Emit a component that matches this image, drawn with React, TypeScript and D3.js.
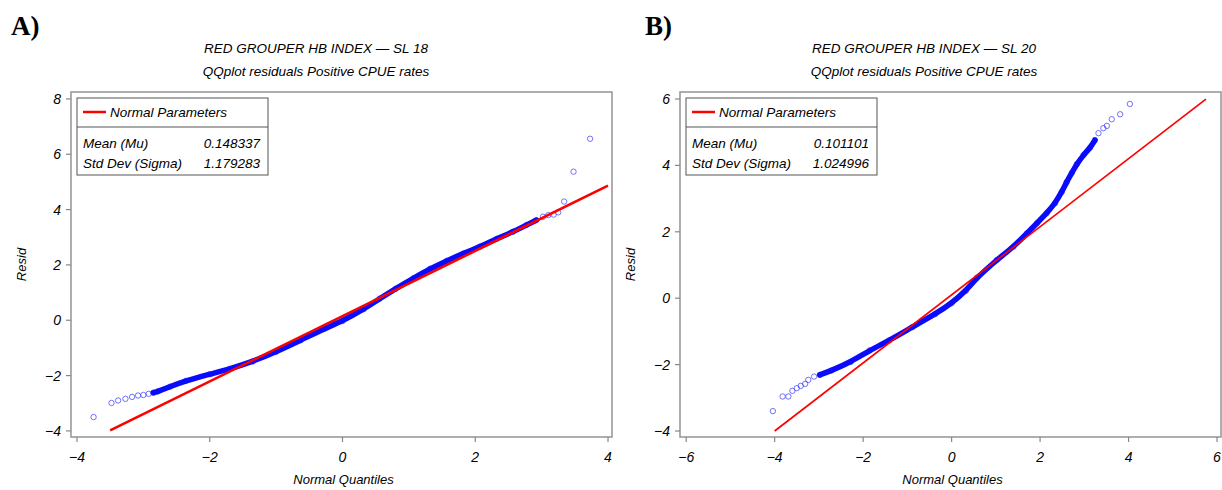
import React from "react";
import * as d3 from "d3";

// ---------- DATA ----------
// Panel A (SL 18): normal quantiles vs residuals
const qqAx = [-3.75, -3.48, -3.38, -3.27, -3.17, -3.08, -3.0, -2.92, -2.85, -2.78, -2.6, -2.36, -2.0, -1.7, -1.35, -1.0, -0.63, -0.27, 0.0, 0.32, 0.56, 0.8, 1.07, 1.32, 1.57, 1.82, 2.07, 2.32, 2.57, 2.77, 2.92, 3.02, 3.1, 3.18, 3.25, 3.34, 3.48, 3.73];
const qqAy = [-3.5, -2.99, -2.9, -2.84, -2.77, -2.72, -2.7, -2.66, -2.62, -2.57, -2.4, -2.19, -1.95, -1.76, -1.49, -1.14, -0.72, -0.3, -0.03, 0.4, 0.78, 1.14, 1.52, 1.86, 2.15, 2.41, 2.66, 2.94, 3.2, 3.44, 3.62, 3.74, 3.8, 3.82, 3.9, 4.29, 5.37, 6.56];
// Panel B (SL 20)
const qqBx = [-4.04, -3.82, -3.69, -3.6, -3.5, -3.41, -3.31, -3.24, -3.11, -2.98, -2.72, -2.28, -1.85, -1.41, -0.89, -0.37, 0.0, 0.32, 0.57, 1.02, 1.4, 1.7, 1.93, 2.15, 2.34, 2.49, 2.6, 2.72, 2.83, 2.98, 3.13, 3.24, 3.32, 3.43, 3.51, 3.62, 3.81, 4.03];
const qqBy = [-3.4, -2.96, -2.96, -2.79, -2.71, -2.64, -2.58, -2.46, -2.36, -2.31, -2.18, -1.92, -1.57, -1.27, -0.87, -0.48, -0.15, 0.22, 0.62, 1.15, 1.55, 1.95, 2.26, 2.56, 2.86, 3.2, 3.5, 3.78, 4.04, 4.31, 4.53, 4.76, 4.97, 5.12, 5.19, 5.39, 5.54, 5.85];

const xTicksA = [-4, -2, 0, 2, 4];
const yTicksA = [-4, -2, 0, 2, 4, 6, 8];
const xTicksB = [-6, -4, -2, 0, 2, 4, 6];
const yTicksB = [-4, -2, 0, 2, 4, 6];

const muA = 0.148337;
const sigmaA = 1.179283;
const muB = 0.101101;
const sigmaB = 1.024996;
const fitRangeA = [-3.5, 4.0];
const fitRangeB = [-4.0, 5.75];
const denseRangeA = [-2.9, 2.95];
const denseRangeB = [-3.0, 3.25];

const panelLabels = ["A)", "B)"];
const titleLine1 = ["RED GROUPER HB INDEX \u2014 SL 18", "RED GROUPER HB INDEX \u2014 SL 20"];
const titleLine2 = "QQplot residuals Positive CPUE rates";
const legendTitle = "Normal Parameters";
const legendRows = ["Mean (Mu)", "Std Dev (Sigma)"];
const xLabel = "Normal Quantiles";
const yLabel = "Resid";

const FONT = "'Liberation Sans', Arial, sans-serif";
const fmt = d3.format("");

type PanelProps = {
  idx: number;
  left: number;
  titleX: number;
  xs: number[];
  ys: number[];
  xDomain: [number, number];
  yDomain: [number, number];
  xTicks: number[];
  yTicks: number[];
  mu: number;
  sigma: number;
  fitRange: number[];
  dense: number[];
  redWidth: number;
};

function Panel(p: PanelProps) {
  const W = 541;
  const top = 92;
  const bottom = 437;
  const x = d3.scaleLinear().domain(p.xDomain).range([p.left, p.left + W]);
  const y = d3.scaleLinear().domain(p.yDomain).range([bottom, top]);
  const pts = p.xs.map((v, i) => [v, p.ys[i]] as [number, number]);
  const densePts = pts.filter((d) => d[0] >= p.dense[0] && d[0] <= p.dense[1]);
  const line = d3
    .line<[number, number]>()
    .x((d) => x(d[0]))
    .y((d) => y(d[1]))
    .curve(d3.curveBasis);
  const fit = p.fitRange.map((q) => [q, p.mu + p.sigma * q] as [number, number]);
  const cx = p.left + W / 2;
  const lgX = p.left + 6;
  const lgY = 98;
  const lgW = 191;
  const lgH = 77;
  return (
    <g>
      <text x={p.idx === 0 ? 11 : 645} y={35} fontFamily="'Liberation Serif', 'Times New Roman', serif" fontWeight="bold" fontSize={27}>
        {panelLabels[p.idx]}
      </text>
      <text x={p.titleX} y={53} textAnchor="middle" fontFamily={FONT} fontStyle="italic" fontSize={13.5}>
        {titleLine1[p.idx]}
      </text>
      <text x={p.titleX} y={76} textAnchor="middle" fontFamily={FONT} fontStyle="italic" fontSize={13.5}>
        {titleLine2}
      </text>
      {/* frame */}
      <rect x={p.left} y={top} width={W} height={bottom - top} fill="none" stroke="#9a9a9a" strokeWidth={1.6} />
      {/* x ticks */}
      {p.xTicks.map((t) => (
        <g key={"x" + t}>
          <line x1={x(t)} x2={x(t)} y1={bottom} y2={bottom + 5} stroke="#888" strokeWidth={1.2} />
          <text x={x(t)} y={462} textAnchor="middle" fontFamily={FONT} fontStyle="italic" fontSize={14}>
            {fmt(t)}
          </text>
        </g>
      ))}
      {p.yTicks.map((t) => (
        <g key={"y" + t}>
          <line x1={p.left} x2={p.left - 5} y1={y(t)} y2={y(t)} stroke="#888" strokeWidth={1.2} />
          <text x={p.left - 10} y={y(t) + 5} textAnchor="end" fontFamily={FONT} fontStyle="italic" fontSize={14}>
            {fmt(t)}
          </text>
        </g>
      ))}
      <text x={cx + 2} y={484} textAnchor="middle" fontFamily={FONT} fontStyle="italic" fontSize={13}>
        {xLabel}
      </text>
      <text
        transform={`translate(${p.left - 45},${(top + bottom) / 2}) rotate(-90)`}
        textAnchor="middle"
        fontFamily={FONT}
        fontStyle="italic"
        fontSize={13}
      >
        {yLabel}
      </text>
      {/* data */}
      {pts.map((d, i) => (
        <circle key={i} cx={x(d[0])} cy={y(d[1])} r={2.7} fill="none" stroke="#3030ff" strokeOpacity={0.75} strokeWidth={0.9} />
      ))}
      <path d={line(densePts) || ""} fill="none" stroke="#0a0aff" strokeWidth={5.5} strokeLinecap="round" />
      <path d={d3.line()(fit.map((d) => [x(d[0]), y(d[1])])) || ""} fill="none" stroke="#ff0000" strokeWidth={p.redWidth} />
      {/* legend */}
      <rect x={lgX} y={lgY} width={lgW} height={lgH} fill="white" stroke="#555" strokeWidth={1} />
      <line x1={lgX} x2={lgX + lgW} y1={lgY + 29} y2={lgY + 29} stroke="#555" strokeWidth={1} />
      <line x1={lgX + 6} x2={lgX + 29} y1={lgY + 14} y2={lgY + 14} stroke="#ff0000" strokeWidth={2.5} />
      <text x={lgX + 33} y={lgY + 19} fontFamily={FONT} fontStyle="italic" fontSize={13.5}>
        {legendTitle}
      </text>
      <text x={lgX + 6} y={lgY + 50} fontFamily={FONT} fontStyle="italic" fontSize={13.5}>
        {legendRows[0]}
      </text>
      <text x={lgX + lgW - 8} y={lgY + 50} textAnchor="end" fontFamily={FONT} fontStyle="italic" fontSize={13.5}>
        {p.mu.toFixed(6)}
      </text>
      <text x={lgX + 6} y={lgY + 70} fontFamily={FONT} fontStyle="italic" fontSize={13.5}>
        {legendRows[1]}
      </text>
      <text x={lgX + lgW - 8} y={lgY + 70} textAnchor="end" fontFamily={FONT} fontStyle="italic" fontSize={13.5}>
        {p.sigma.toFixed(6)}
      </text>
    </g>
  );
}

export default function App() {
  return (
    <div style={{ position: "absolute", left: 0, top: 0 }}>
      <svg width={1222} height={490} style={{ display: "block", background: "white" }}>
        <Panel
          idx={0}
          left={71}
          titleX={316}
          xs={qqAx}
          ys={qqAy}
          xDomain={[-4.09, 4.06]}
          yDomain={[-4.22, 8.25]}
          xTicks={xTicksA}
          yTicks={yTicksA}
          mu={muA}
          sigma={sigmaA}
          fitRange={fitRangeA}
          dense={denseRangeA}
          redWidth={2.6}
        />
        <Panel
          idx={1}
          left={680}
          titleX={924}
          xs={qqBx}
          ys={qqBy}
          xDomain={[-6.14, 6.09]}
          yDomain={[-4.18, 6.21]}
          xTicks={xTicksB}
          yTicks={yTicksB}
          mu={muB}
          sigma={sigmaB}
          fitRange={fitRangeB}
          dense={denseRangeB}
          redWidth={1.7}
        />
      </svg>
    </div>
  );
}
